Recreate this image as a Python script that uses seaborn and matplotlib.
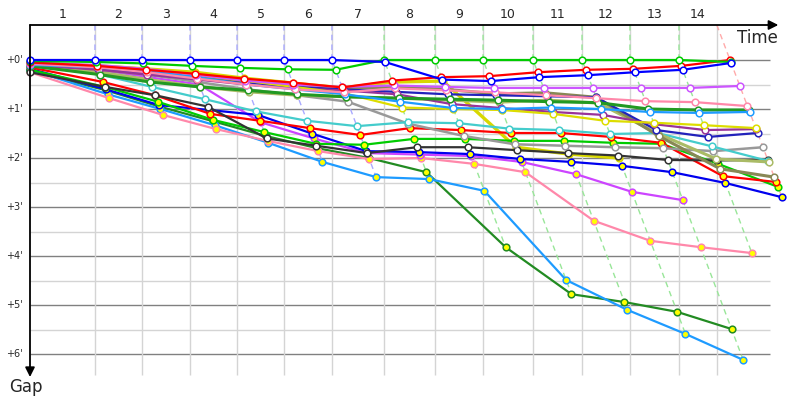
import numpy as np
import matplotlib
matplotlib.use('Agg')
from matplotlib import pyplot as plt
import seaborn as sns

# leader's elapsed time (minutes) at the end of each lap, index 0 = start
lap_times = [0, 3.51, 6.05, 8.65, 11.19, 13.73, 16.32, 19.14, 21.89,
             24.49, 27.19, 29.84, 32.43, 35.08, 37.84]
lap_labels = [str(i) for i in range(1, 15)]
lap_line_colors = ['#aaaaff'] * 6 + ['#99e699'] * 7 + ['#ffaaaa']
gap_ticks = [0, 1, 2, 3, 4, 5, 6]
gap_labels = ["+0'", "+1'", "+2'", "+3'", "+4'", "+5'", "+6'"]

# gap to the leader (minutes) after each lap, index 0 = start grid
blue_w    = [0.00, 0, 0, 0, 0, 0, 0, 0.04, 0.40, 0.43, 0.35, 0.31, 0.25, 0.20, 0.06]
green_w   = [0.02, 0.04, 0.07, 0.12, 0.16, 0.19, 0.20, 0, 0, 0, 0, 0, 0, 0, 0.04]
red_w     = [0.05, 0.12, 0.20, 0.28, 0.38, 0.46, 0.56, 0.42, 0.35, 0.33, 0.25, 0.20, 0.18, 0.12, 0.00]
violet_w  = [0.06, 0.10, 0.18, 0.30, 0.42, 0.50, 0.55, 0.52, 0.55, 0.57, 0.57, 0.57, 0.57, 0.57, 0.53]
pink_w    = [0.08, 0.15, 0.25, 0.38, 0.50, 0.60, 0.66, 0.58, 0.62, 0.66, 0.72, 0.78, 0.84, 0.86, 0.94]
ltblue_w  = [0.10, 0.15, 0.22, 0.35, 0.50, 0.60, 0.70, 0.85, 0.98, 1.00, 0.97, 1.00, 1.06, 1.08, 1.06]
dkgreen_w = [0.12, 0.30, 0.45, 0.55, 0.62, 0.70, 0.75, 0.78, 0.80, 0.82, 0.85, 0.87, 1.00, 1.02, 1.02]
yellow_w  = [0.08, 0.12, 0.20, 0.30, 0.42, 0.55, 0.68, 0.97, 1.00, 1.02, 1.10, 1.24, 1.28, 1.33, 1.39]
purple_w  = [0.10, 0.20, 0.30, 0.40, 0.50, 0.58, 0.62, 0.70, 0.90, 0.98, 1.06, 1.12, 1.31, 1.43, 1.41]
navy_w    = [0.10, 0.18, 0.28, 0.38, 0.48, 0.55, 0.60, 0.65, 0.70, 0.72, 0.74, 0.76, 1.43, 1.57, 1.49]
olive_w   = [0.10, 0.15, 0.25, 0.35, 0.45, 0.52, 0.58, 0.55, 0.60, 0.69, 0.67, 0.76, 1.55, 2.22, 2.39]
ltolive_w = [0.12, 0.25, 0.40, 0.55, 0.65, 0.72, 0.75, 0.78, 0.82, 0.86, 0.82, 0.88, 1.50, 2.02, 2.08]
cyan_w    = [0.10, 0.30, 0.55, 0.80, 1.05, 1.24, 1.35, 1.27, 1.29, 1.40, 1.43, 1.51, 1.49, 1.76, 2.06]
gray_w    = [0.10, 0.20, 0.30, 0.45, 0.60, 0.72, 0.85, 1.30, 1.55, 1.72, 1.75, 1.78, 1.80, 1.86, 1.78]
black_w   = [0.25, 0.55, 0.72, 0.95, 1.60, 1.75, 1.90, 1.78, 1.78, 1.84, 1.90, 1.95, 2.04, 2.05, 2.04]
red_y     = [0.15, 0.45, 0.72, 1.10, 1.24, 1.39, 1.53, 1.39, 1.43, 1.49, 1.49, 1.57, 1.69, 2.37, 2.49]
green_y   = [0.20, 0.55, 0.85, 1.22, 1.47, 1.71, 1.73, 1.61, 1.61, 1.65, 1.65, 1.69, 1.71, 2.12, 2.59]
blue_y    = [0.18, 0.60, 0.92, 1.02, 1.12, 1.50, 1.86, 1.88, 1.92, 2.02, 2.08, 2.16, 2.29, 2.51, 2.80]
violet_y  = [0.05, 0.20, 0.35, 0.50, 1.27, 1.60, 1.90, 1.93, 1.96, 2.08, 2.33, 2.69, 2.86]
pink_y    = [0.25, 0.78, 1.12, 1.41, 1.65, 1.86, 2.02, 2.00, 2.12, 2.29, 3.28, 3.69, 3.82, 3.94]
ltblue_y  = [0.20, 0.70, 1.00, 1.33, 1.69, 2.08, 2.39, 2.43, 2.67, 4.49, 5.10, 5.59, 6.12]
dkgreen_y = [0.22, 0.62, 0.95, 1.25, 1.55, 1.80, 2.00, 2.29, 3.82, 4.78, 4.94, 5.14, 5.49]
yellow_y  = [0.06, 0.12, 0.18, 0.25, 0.37, 0.47, 0.57, 0.45, 0.43, 1.78, 1.92, 2.00]

# (gaps, line colour, marker face, line width)
cars = [
    (yellow_y,  '#d8d800', '#ffff00', 2.4),
    (dkgreen_y, '#228b22', '#ffff00', 1.6),
    (ltblue_y,  '#1e9bff', '#ffff00', 1.6),
    (pink_y,    '#ff88aa', '#ffff00', 1.6),
    (violet_y,  '#cc44ff', '#ffff00', 1.6),
    (blue_y,    '#0000ee', '#ffff00', 1.6),
    (green_y,   '#00cc00', '#ffff00', 1.6),
    (red_y,     '#ff0000', '#ffff00', 1.6),
    (black_w,   '#333333', 'white', 1.6),
    (gray_w,    '#999999', 'white', 1.8),
    (cyan_w,    '#44cccc', 'white', 1.6),
    (ltolive_w, '#aabb66', 'white', 2.2),
    (olive_w,   '#888855', 'white', 2.2),
    (navy_w,    '#2222bb', 'white', 1.6),
    (purple_w,  '#993399', 'white', 1.6),
    (yellow_w,  '#dddd00', 'white', 1.6),
    (dkgreen_w, '#229922', 'white', 2.2),
    (ltblue_w,  '#1e9bff', 'white', 1.6),
    (pink_w,    '#ff88aa', 'white', 1.6),
    (violet_w,  '#cc55ff', 'white', 1.6),
    (red_w,     '#ff0000', 'white', 1.6),
    (green_w,   '#00cc00', 'white', 1.6),
    (blue_w,    '#0000ff', 'white', 1.6),
]

sns.set_style('white')
plt.rcParams['font.family'] = ['DejaVu Sans']

fig = plt.figure(figsize=(8, 4), dpi=100)
ax = fig.add_axes([0, 0, 1, 1])

PX_X = 18.5   # pixels per minute of race time
PX_Y = 49.0   # pixels per minute of gap
top = -35 / PX_Y
bottom = 315 / PX_Y
right = 740 / PX_X

# gap grid
for g in np.arange(0.5, 6.0, 1.0):
    ax.hlines(g, 0, right, color='#d4d4d4', lw=1, zorder=0)
for g in gap_ticks:
    ax.hlines(g, 0, right, color='#808080', lw=1, zorder=0)
    ax.text(-0.82, g, gap_labels[g], ha='center', va='center', fontsize=7)

# lap grid: leader crossings, last one is the finish line seen at the top
grid_x = lap_times[1:14] + [lap_times[14] + top]
ax.vlines(grid_x, top, bottom, color='#d4d4d4', lw=1, zorder=0)

edges = [0] + grid_x
for i, lab in enumerate(lap_labels):
    ax.text((edges[i] + edges[i + 1]) / 2, -0.92, lab, ha='center', va='center', fontsize=9)

# dashed "same lap" lines, sloping because a gap also costs race time
for k in range(1, 15):
    deepest = max(c[0][k] for c in cars if len(c[0]) > k)
    t = lap_times[k]
    if k < 14:
        xs, ys = [t, t, t + deepest], [top, 0, deepest]
    else:
        xs, ys = [t + top, t + deepest], [top, deepest]
    ax.plot(xs, ys, color=lap_line_colors[k - 1], lw=1, ls=(0, (4, 3)), zorder=1)

# one line per car, markers at every lap completion
for gaps, col, face, lw in cars:
    xs = [0] + [lap_times[k] + gaps[k] for k in range(1, len(gaps))]
    sns.lineplot(x=xs, y=gaps, ax=ax, sort=False, estimator=None, legend=False,
                 color=col, lw=lw, marker='o', ms=4.8, mfc=face, mec=col, mew=1.1,
                 zorder=3)

# axes with arrows
ax.annotate('', xy=(40.45, top), xytext=(0, top),
            arrowprops=dict(arrowstyle='-|>', color='black', lw=1.3,
                            mutation_scale=14, shrinkA=0, shrinkB=0))
ax.annotate('', xy=(0, 6.47), xytext=(0, top),
            arrowprops=dict(arrowstyle='-|>', color='black', lw=1.3,
                            mutation_scale=14, shrinkA=0, shrinkB=0))
ax.text(40.45, -0.45, 'Time', ha='right', va='center', fontsize=12)
ax.text(-0.25, 6.67, 'Gap', ha='center', va='center', fontsize=12)

ax.set_xlim(-30 / PX_X, 770 / PX_X)
ax.set_ylim(340 / PX_Y, -60 / PX_Y)
ax.axis('off')

fig.savefig('out.png', dpi=100)
plt.close(fig)
